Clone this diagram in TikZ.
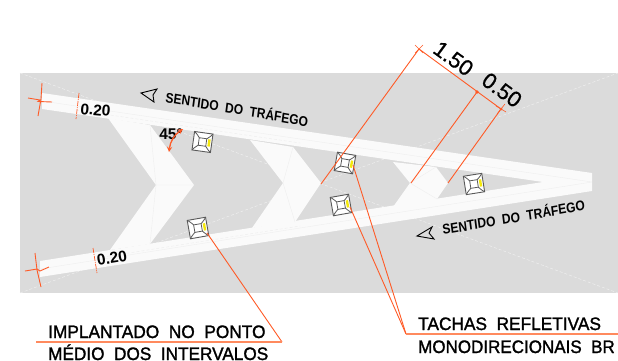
\documentclass[tikz,border=0pt]{standalone}
\usepackage{fontspec}
\usetikzlibrary{calc}
\setmainfont{Liberation Sans}
\newfontfamily\heavyfont[FakeBold=1.5]{Liberation Sans}
\newfontfamily\mediumfont[FakeBold=0.6]{Liberation Sans}
\definecolor{ground}{HTML}{DBDBDB}
\definecolor{paint}{HTML}{FAFAFA}
\definecolor{faint}{HTML}{EFEFEF}
\definecolor{lead}{HTML}{FF5A26}
\definecolor{leadsoft}{HTML}{FF8A5E}
\definecolor{cat}{HTML}{5A5A5A}
\tikzset{
  leader/.style={draw=lead,line width=0.9pt},
  shelf/.style={draw=leadsoft,line width=1.3pt},
  guide/.style={draw=faint,line width=0.4pt},
  guidedash/.style={draw=faint,line width=0.5pt,dash pattern=on 3pt off 2pt},
  band/.style={fill=paint,draw=none},
  note/.style={anchor=base west,inner sep=0pt,font=\fontsize{18}{18}\selectfont\heavyfont},
  flow/.style={anchor=base west,inner sep=0pt,xscale=0.86,font=\fontsize{14}{14}\selectfont\bfseries},
  dim/.style={inner sep=0pt,font=\fontsize{15.5}{15.5}\selectfont\bfseries},
  big/.style={inner sep=0pt,font=\fontsize{22}{22}\selectfont\mediumfont},
  arrowmark/.style={draw=black,line width=0.9pt,line join=miter},
  tacha/.pic={
    \draw[cat,line width=0.9pt,fill=white] (-9.3,-9.3) rectangle (9.3,9.3);
    \draw[cat,line width=0.8pt] (-9.3,-9.3) .. controls (-6,-7) and (-5,-5) .. (-3.5,-3.5)
      (9.3,-9.3) .. controls (7,-6) and (5,-5) .. (3.5,-3.5)
      (9.3,9.3) .. controls (6,7) and (5,5) .. (3.5,3.5)
      (-9.3,9.3) .. controls (-7,6) and (-5,5) .. (-3.5,3.5);
    \draw[cat,line width=0.8pt,fill=white] (-3.8,-3.8) rectangle (3.8,3.8);
    \fill[yellow!95!black] (5.4,-3.6) rectangle (7.8,3.6);
  }
}
\begin{document}
\begin{tikzpicture}[x=1pt,y=-1pt]
\useasboundingbox (0,0) rectangle (618,361);
% pavement
\fill[ground] (20,73) rectangle (618,293);
\draw[guidedash] (20,73) -- (618,293);
\draw[guidedash] (20,293) -- (618,73);
% painted bands
\fill[band] (42,93) -- (592,173) -- (592,191) -- (40,277) -- (40,261) -- (543,182) -- (42,109) -- cycle;
\fill[band] (108,118) -- (150,125) -- (194,185) -- (150,244) -- (110,250) -- (156,185) -- cycle;
\fill[band] (250,140) -- (293,147) -- (321,183) -- (295,222) -- (252,228) -- (283,183) -- cycle;
\fill[band] (393,162) -- (436,167) -- (448,183) -- (437,199) -- (393,207) -- (410,183) -- cycle;
% construction lines in the paint
\draw[guide] (150,125) -- (156,185) -- (150,244) (156,185) -- (194,185);
\draw[guide] (293,147) -- (283,183) -- (295,222);
\draw[guide] (436,167) -- (410,183) -- (437,199);
\draw[guide] (42,101) -- (592,182) (40,269) -- (592,182);
\draw[guidedash] (76,110) -- (300,143) (97,258) -- (300,226);
% cat's eyes
\pic[rotate=-8] at (202.5,142) {tacha};
\pic[rotate=-10] at (345,163) {tacha};
\pic[rotate=10] at (341,205) {tacha};
\pic[rotate=10] at (198,228) {tacha};
\pic[rotate=9] at (474,184) {tacha};
% named leader points
\coordinate (d1) at (419,49);
\coordinate (d2) at (477,92);
\coordinate (d3) at (501,109);
\coordinate (e1) at (321,184);
\coordinate (e2) at (411,183);
\coordinate (e3) at (448,183);
\coordinate (t1) at (353,165);
\coordinate (t2) at (350,207);
\coordinate (t3) at (207,233);
\coordinate (sR) at (406,334);
\coordinate (sRe) at (618,334);
\coordinate (sL) at (282,342);
\coordinate (sLe) at (36,342);
% dimensions
\draw[leader] (d1) -- (d3);
\draw[leader] (d1) -- (e1) (d2) -- (e2) (d3) -- (e3);
\draw[leader,line width=0.6pt] ($(d1)+(-4,-4)$) -- ($(d1)+(4,4)$) ($(d1)+(4,-4)$) -- ($(d1)+(-4,4)$);
\draw[leader,line width=0.6pt] ($(d3)+(-5,-3)$) -- ($(d3)+(5,3)$) ($(d3)+(4,-5)$) -- ($(d3)+(-4,5)$);
\fill[lead] (d2) circle (1.8pt) (d3) circle (1.5pt);
\node[big,rotate=-36] (l150) at (453.5,58.5) {1.50};
\node[big,rotate=-36] (l050) at (502,90) {0.50};
% leaders to text
\draw[leader] (t1) -- (sR);
\draw[leader] (t2) -- (sR);
\draw[leader] (t3) -- (sL);
\draw[shelf] (sR) -- (sRe);
\draw[shelf] (sL) -- (sLe);
% notes
\node[note,xscale=0.96] (n1) at (48,338) {IMPLANTADO\ \ NO\ \ PONTO};
\node[note,xscale=0.955] (n2) at (48,360) {MÉDIO\ \ DOS\ \ INTERVALOS};
\node[note,xscale=0.96] (n3) at (418,330) {TACHAS\ \ REFLETIVAS};
\node[note,xscale=0.945] (n4) at (418,353) {MONODIRECIONAIS\ \ BR};
% traffic direction
\node[flow,rotate=-8.5] (f1) at (165,102) {SENTIDO\ \ DO\ \ TRÁFEGO};
\node[flow,rotate=8.5] (f2) at (443,235) {SENTIDO\ \ DO\ \ TRÁFEGO};
\draw[arrowmark] (141,93) -- (157,89) -- (153,95) -- (154,102) -- cycle;
\draw[arrowmark] (417,236) -- (432,227) -- (429,233) -- (434,239) -- cycle;
% 0.20 measures
\draw[leader,dash pattern=on 5pt off 1pt on 1pt off 1pt,line width=0.7pt] (79,93) -- (76,119);
\draw[leader,dash pattern=on 5pt off 1pt on 1pt off 1pt,line width=0.7pt] (93,248) -- (97,273);
\node[dim,rotate=-5] (w1) at (95.5,110) {0.20};
\node[dim,rotate=9] (w2) at (112,258) {0.20};
% break symbols
\draw[leader] (42,83) -- (41,99) -- (38,116);
\draw[leader] (28,98) -- (40,100) -- (38,101.5) -- (52,102);
\draw[leader] (35,253) -- (37,270) -- (41,287);
\draw[leader] (25,271) -- (37,269) -- (40,271) -- (49,267);
% angle
\node[dim] (a45) at (171,134) {45°};
\draw[leader,line width=1.3pt,<->,>=stealth] (183,129) to[bend right=25] (169,152);
\end{tikzpicture}
\end{document}
